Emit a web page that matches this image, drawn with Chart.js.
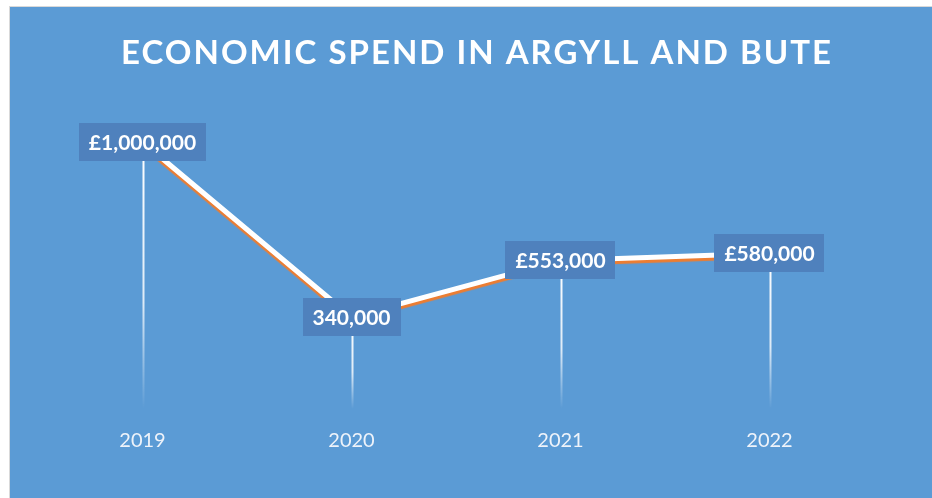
<!DOCTYPE html>
<html>
<head>
<meta charset="utf-8">
<script src="https://cdn.jsdelivr.net/npm/chart.js@4/dist/chart.umd.min.js"></script>
<style>
  html, body { margin: 0; padding: 0; background: #fff; }
  body { width: 932px; height: 498px; overflow: hidden; position: relative; }
  .frame {
    position: absolute; left: 9px; top: 6px;
    width: 923px; height: 492px;
    border-left: 1px solid #d9d9d9; border-top: 1px solid #d9d9d9;
    background: #5b9bd5;
  }
  .frame canvas { display: block; }
</style>
</head>
<body>
<div class="frame">
  <canvas id="chart" width="922" height="491"></canvas>
</div>
<script>
// Chart data
const years = ['2019', '2020', '2021', '2022'];
const spend = [1000000, 340000, 553000, 580000];
const valueLabels = ['£1,000,000', '340,000', '£553,000', '£580,000'];
const chartTitle = 'ECONOMIC SPEND IN ARGYLL AND BUTE';

const FONT = "Lato, 'Open Sans', sans-serif";

// Title with letter spacing (built-in title can't space letters)
const titlePlugin = {
  id: 'spacedTitle',
  afterDraw(chart) {
    const { ctx } = chart;
    ctx.save();
    ctx.font = `bold 33px ${FONT}`;
    ctx.letterSpacing = '2px';
    ctx.fillStyle = '#ffffff';
    ctx.textAlign = 'center';
    ctx.textBaseline = 'middle';
    ctx.fillText(chartTitle, 467, 46);
    ctx.restore();
  },
};

// Fading drop lines from each point down to the axis
const dropLines = {
  id: 'dropLines',
  beforeDatasetsDraw(chart) {
    const { ctx, scales } = chart;
    const meta = chart.getDatasetMeta(0);
    const bottom = scales.y.getPixelForValue(0) + 2;
    ctx.save();
    ctx.lineWidth = 2;
    meta.data.forEach((pt) => {
      const grad = ctx.createLinearGradient(0, pt.y, 0, bottom);
      grad.addColorStop(0, 'rgba(255,255,255,1)');
      grad.addColorStop(0.6, 'rgba(255,255,255,0.8)');
      grad.addColorStop(1, 'rgba(255,255,255,0)');
      ctx.strokeStyle = grad;
      ctx.beginPath();
      ctx.moveTo(Math.round(pt.x) + 0.5, pt.y);
      ctx.lineTo(Math.round(pt.x) + 0.5, bottom);
      ctx.stroke();
    });
    ctx.restore();
  },
};

// Orange shadow under the white line
const lineShadow = {
  id: 'lineShadow',
  beforeDatasetDraw(chart) {
    const { ctx } = chart;
    ctx.save();
    ctx.shadowColor = '#ed7d31';
    ctx.shadowBlur = 1;
    ctx.shadowOffsetX = 0;
    ctx.shadowOffsetY = 3;
  },
  afterDatasetDraw(chart) {
    chart.ctx.restore();
  },
};

// Boxed value labels centred on points
const boxLabels = {
  id: 'boxLabels',
  afterDatasetsDraw(chart) {
    const { ctx } = chart;
    const meta = chart.getDatasetMeta(0);
    ctx.save();
    ctx.font = `bold 21px ${FONT}`;
    ctx.textAlign = 'center';
    ctx.textBaseline = 'middle';
    meta.data.forEach((pt, i) => {
      const text = valueLabels[i];
      const w = ctx.measureText(text).width + 20;
      const h = 38;
      ctx.fillStyle = '#4f81bd';
      ctx.fillRect(Math.round(pt.x - w / 2), Math.round(pt.y - h / 2), Math.round(w), h);
      ctx.fillStyle = '#ffffff';
      ctx.fillText(text, pt.x, pt.y + 1);
    });
    ctx.restore();
  },
};

new Chart(document.getElementById('chart'), {
  type: 'line',
  data: {
    labels: years,
    datasets: [
      {
        label: 'Economic spend',
        data: spend,
        borderColor: '#ffffff',
        borderWidth: 5,
        pointRadius: 0,
        tension: 0,
        fill: false,
      },
    ],
  },
  options: {
    responsive: false,
    animation: false,
    layout: { padding: { top: 82, left: 28, right: 58, bottom: 31 } },
    plugins: {
      legend: { display: false },
      title: { display: false },
      tooltip: { enabled: false },
    },
    scales: {
      x: {
        offset: true,
        grid: { display: false },
        border: { display: false },
        ticks: {
          color: '#eef3fa',
          padding: 14,
          font: { family: FONT, size: 20 },
        },
      },
      y: {
        display: false,
        min: 0,
        max: 1200000,
      },
    },
  },
  plugins: [dropLines, lineShadow, boxLabels, titlePlugin],
});
</script>
</body>
</html>
